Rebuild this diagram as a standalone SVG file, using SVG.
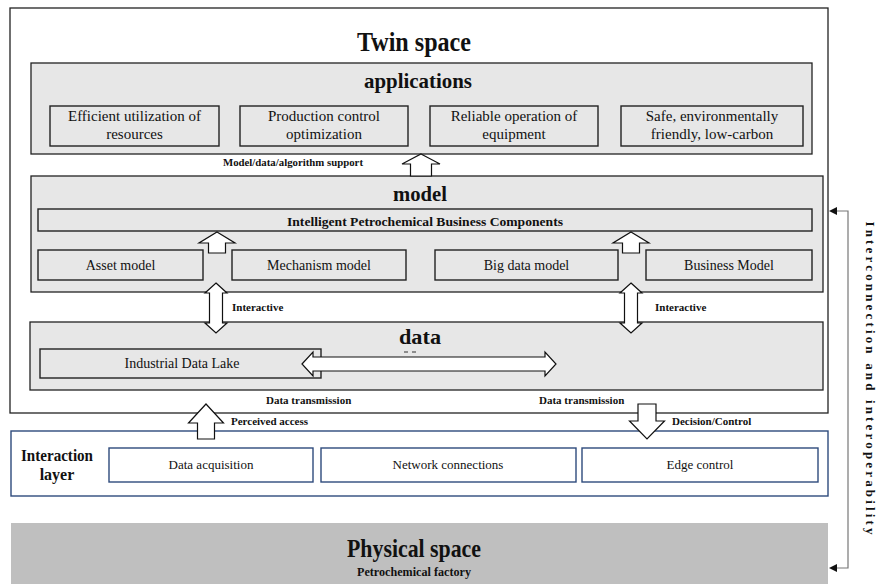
<svg xmlns="http://www.w3.org/2000/svg" width="892" height="584" viewBox="0 0 892 584">
<defs>
<style>
text{font-family:"Liberation Serif","Times New Roman",serif;fill:#111;}
.b{font-weight:bold;}
.c{text-anchor:middle;}
.layer{fill:#e7e7e7;stroke:#222;stroke-width:1.3;}
.sub{fill:#e7e7e7;stroke:#222;stroke-width:1.4;}
.ib{fill:#fff;stroke:#2e4a7c;stroke-width:1.4;}
.arr{fill:#fff;stroke:#111;stroke-width:1.2;stroke-linejoin:miter;}
.conn{fill:none;stroke:#777;stroke-width:1.2;}
.t14{font-size:14px;}
.t15{font-size:15px;}
.t11{font-size:11px;}
</style>
</defs>
<rect width="892" height="584" fill="#fff"/>

<g id="twin-space">
<rect x="10" y="8" width="818" height="405" fill="#fff" stroke="#222" stroke-width="1.3"/>
<text class="b c" x="414" y="51" font-size="28" textLength="114" lengthAdjust="spacingAndGlyphs">Twin space</text>
</g>

<g id="applications">
<rect class="layer" x="31" y="63" width="781" height="91"/>
<text class="b c" x="418" y="88" font-size="22" textLength="108" lengthAdjust="spacingAndGlyphs">applications</text>
</g>
<g id="app-efficient">
<rect class="sub" x="50" y="106" width="169" height="40"/>
<text class="c t15" x="134.5" y="121">Efficient utilization of</text>
<text class="c t15" x="134.5" y="139">resources</text>
</g>
<g id="app-production">
<rect class="sub" x="240" y="106" width="168" height="40"/>
<text class="c t15" x="324" y="121">Production control</text>
<text class="c t15" x="324" y="139">optimization</text>
</g>
<g id="app-reliable">
<rect class="sub" x="430" y="106" width="168" height="40"/>
<text class="c t15" x="514" y="121">Reliable operation of</text>
<text class="c t15" x="514" y="139">equipment</text>
</g>
<g id="app-safe">
<rect class="sub" x="621" y="106" width="182" height="40"/>
<text class="c t15" x="712" y="121">Safe, environmentally</text>
<text class="c t15" x="712" y="139">friendly,  low-carbon</text>
</g>

<g id="model">
<rect class="layer" x="31" y="176" width="792" height="116"/>
<text class="b c" x="420" y="201" font-size="22" textLength="54" lengthAdjust="spacingAndGlyphs">model</text>
</g>
<g id="ipbc">
<rect class="sub" x="38" y="209" width="774" height="22"/>
<text class="b c" x="425" y="226" font-size="12.5" textLength="276" lengthAdjust="spacingAndGlyphs">Intelligent Petrochemical Business Components</text>
</g>
<g id="asset-model">
<rect class="sub" x="38" y="250" width="165" height="30"/>
<text class="c t14" x="120.5" y="270">Asset model</text>
</g>
<g id="mechanism-model">
<rect class="sub" x="232" y="250" width="174" height="30"/>
<text class="c t14" x="319" y="270">Mechanism  model</text>
</g>
<g id="big-data-model">
<rect class="sub" x="435" y="250" width="183" height="30"/>
<text class="c t14" x="526.5" y="270">Big  data model</text>
</g>
<g id="business-model">
<rect class="sub" x="646" y="250" width="166" height="30"/>
<text class="c t14" x="729" y="270">Business Model</text>
</g>

<g id="data">
<rect class="layer" x="30" y="322" width="793" height="68"/>
<text class="b c" x="420" y="344" font-size="22" textLength="42" lengthAdjust="spacingAndGlyphs">data</text>
<path d="M404,352 h4 M412,352 h4" stroke="#333" stroke-width="1.2"/>
</g>
<g id="industrial-data-lake">
<rect class="sub" x="40" y="349" width="281" height="29"/>
<text class="c t14" x="182" y="368">Industrial  Data  Lake</text>
</g>

<g id="interaction-layer">
<rect x="11" y="431" width="817" height="65" fill="#fff" stroke="#2e4a7c" stroke-width="1.4"/>
<text class="b c" x="57" y="461" font-size="16" textLength="72" lengthAdjust="spacingAndGlyphs">Interaction</text>
<text class="b c" x="57" y="480" font-size="16">layer</text>
</g>
<g id="data-acquisition">
<rect class="ib" x="109" y="448" width="204" height="34"/>
<text class="c" x="211" y="469" font-size="13">Data acquisition</text>
</g>
<g id="network-connections">
<rect class="ib" x="321" y="448" width="255" height="34"/>
<text class="c" x="448" y="469" font-size="13">Network connections</text>
</g>
<g id="edge-control">
<rect class="ib" x="582" y="448" width="236" height="34"/>
<text class="c" x="700" y="469" font-size="13">Edge control</text>
</g>

<g id="physical-space">
<rect x="11" y="523" width="817" height="61" fill="#bfbfbf"/>
<text class="b c" x="414" y="557" font-size="26" textLength="134" lengthAdjust="spacingAndGlyphs">Physical space</text>
<text class="b c" x="414" y="576" font-size="12.5" textLength="114" lengthAdjust="spacingAndGlyphs">Petrochemical factory</text>
</g>

<g id="connectors">
<path class="arr" d="M421,154 L440,164 L431.5,164 L431.5,176 L410.5,176 L410.5,164 L402,164 Z"/>
<text class="b t11" x="223" y="166" textLength="140" lengthAdjust="spacingAndGlyphs">Model/data/algorithm support</text>
<path class="arr" d="M217,232 L235,243 L225.5,243 L225.5,253 L208.5,253 L208.5,243 L199,243 Z"/>
<path class="arr" d="M631,232 L649,243 L639.5,243 L639.5,253 L622.5,253 L622.5,243 L613,243 Z"/>
<path class="arr" d="M216,283 L227,293 L222.5,293 L222.5,323 L227,323 L216,333 L205,323 L209.5,323 L209.5,293 L205,293 Z"/>
<path class="arr" d="M631,283 L642,293 L637.5,293 L637.5,323 L642,323 L631,333 L620,323 L624.5,323 L624.5,293 L620,293 Z"/>
<text class="b t11" x="232" y="311">Interactive</text>
<text class="b t11" x="655" y="311">Interactive</text>
<path class="arr" d="M302,364 L313,352 L313,357 L545,357 L545,352 L556,364 L545,376 L545,371 L313,371 L313,376 Z"/>
<text class="b t11" x="266" y="404">Data transmission</text>
<text class="b t11" x="539" y="404">Data transmission</text>
<path class="arr" d="M206,404 L223.5,423 L214.5,423 L214.5,439 L197.5,439 L197.5,423 L188.5,423 Z"/>
<text class="b t11" x="231" y="425">Perceived access</text>
<path class="arr" d="M638,404 L656,404 L656,421 L664.5,421 L647,439 L629.5,421 L638,421 Z"/>
<text class="b t11" x="672" y="425">Decision/Control</text>
<path class="conn" d="M836,211 L848,211 L848,568 L836,568"/>
<path d="M829,211 L837,207 L837,215 Z M829,568 L837,564 L837,572 Z" fill="#111"/>
<text class="b c" font-size="13" transform="translate(866,378) rotate(90)" textLength="313" lengthAdjust="spacing">Interconnection and interoperability</text>
</g>
</svg>
